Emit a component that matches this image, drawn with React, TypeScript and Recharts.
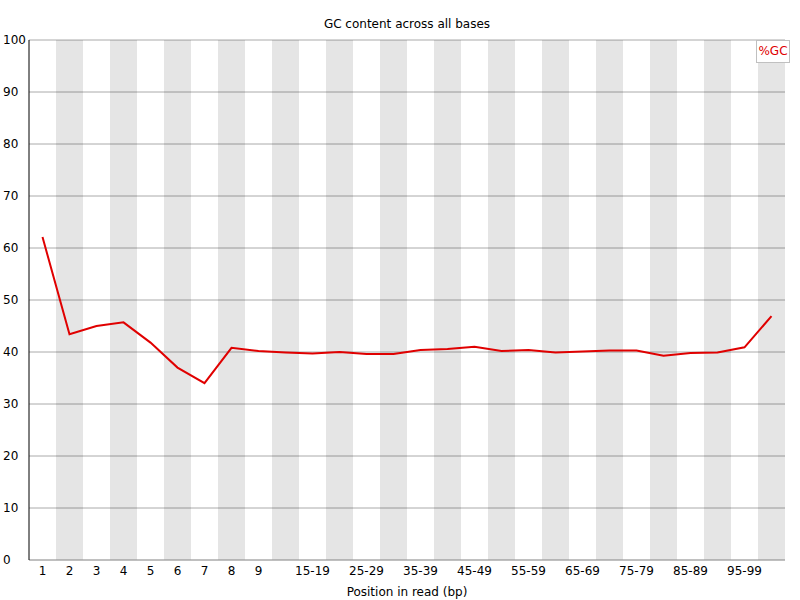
import React from "react";
import {
  CartesianGrid,
  ComposedChart,
  Line,
  ReferenceArea,
  XAxis,
  YAxis,
} from "recharts";

const positions = [
  "1", "2", "3", "4", "5", "6", "7", "8", "9",
  "10-14", "15-19", "20-24", "25-29", "30-34", "35-39", "40-44", "45-49",
  "50-54", "55-59", "60-64", "65-69", "70-74", "75-79", "80-84", "85-89",
  "90-94", "95-99", "100-101",
];

const gcPercent = [
  62.1, 43.4, 45.0, 45.7, 41.8, 37.0, 34.0, 40.8, 40.2,
  39.9, 39.7, 40.0, 39.6, 39.6, 40.4, 40.6, 41.0,
  40.2, 40.4, 39.9, 40.1, 40.3, 40.3, 39.3, 39.8,
  39.9, 40.9, 46.9,
];

const xTickLabels = [
  "1", "2", "3", "4", "5", "6", "7", "8", "9",
  "15-19", "25-29", "35-39", "45-49", "55-59", "65-69", "75-79", "85-89", "95-99",
];

const yTicks = [0, 10, 20, 30, 40, 50, 60, 70, 80, 90, 100];

const FONT = "'DejaVu Sans', Verdana, sans-serif";

const YTick = (props: any) => {
  const { y, payload } = props;
  return (
    <text x={3} y={y} dy="0.35em" textAnchor="start" fontSize={12} fill="#000" fontFamily={FONT}>
      {payload.value}
    </text>
  );
};

export default function App() {
  const chartData = positions.map((pos, i) => ({ pos, gc: gcPercent[i] }));
  // every second position gets a grey stripe
  const shaded = positions.filter((_, i) => i % 2 === 1);

  return (
    <div style={{ position: "absolute", left: 0, top: 0, width: 800, height: 600, background: "#fff", fontFamily: FONT }}>
      <div
        style={{
          position: "absolute",
          left: 0,
          width: 814,
          top: 17,
          textAlign: "center",
          fontSize: 12,
          color: "#000",
        }}
      >
        GC content across all bases
      </div>
      <ComposedChart
        width={800}
        height={600}
        data={chartData}
        margin={{ top: 40, right: 15, left: 0, bottom: 0 }}
        style={{ fontFamily: FONT }}
      >
        <CartesianGrid vertical={false} stroke="#aaaaaa" strokeDasharray="" />
        {shaded.map((p) => (
          <ReferenceArea key={p} x1={p} x2={p} y1={0} y2={100} fill="#000" fillOpacity={0.1} stroke="none" />
        ))}
        <XAxis
          dataKey="pos"
          scale="band"
          ticks={xTickLabels}
          interval={0}
          height={40}
          tickLine={false}
          tickSize={6}
          tickMargin={0}
          axisLine={{ stroke: "#aaaaaa" }}
          tick={{ fontSize: 12, fill: "#000", fontFamily: FONT }}
          label={{
            value: "Position in read (bp)",
            position: "insideBottom",
            offset: 4,
            fontSize: 12,
            fill: "#000",
            fontFamily: FONT,
          }}
        />
        <YAxis
          width={29}
          domain={[0, 100]}
          ticks={yTicks}
          interval={0}
          tickLine={false}
          axisLine={{ stroke: "#000" }}
          tick={<YTick />}
        />
        <Line
          type="linear"
          dataKey="gc"
          stroke="#e00000"
          strokeWidth={2}
          dot={false}
          activeDot={false}
          isAnimationActive={false}
        />
      </ComposedChart>
      <div
        style={{
          position: "absolute",
          left: 756,
          top: 40,
          width: 32,
          height: 21,
          border: "1px solid #c0c0c0",
          background: "#fff",
          color: "#e00000",
          fontSize: 12,
          lineHeight: "21px",
          textAlign: "center",
        }}
      >
        %GC
      </div>
    </div>
  );
}
